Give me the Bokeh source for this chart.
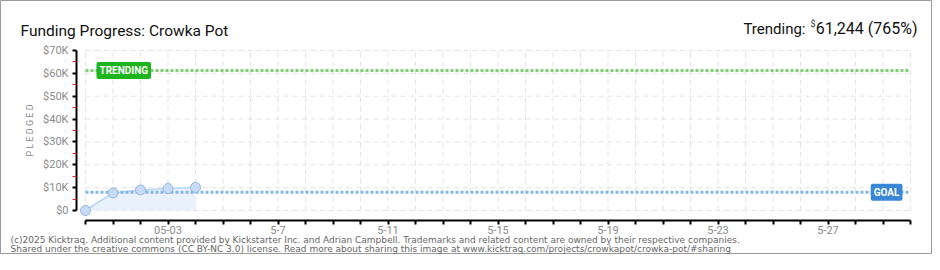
from bokeh.plotting import figure
from bokeh.models import Range1d, FixedTicker, Label
from bokeh.embed import file_html
from bokeh.resources import INLINE

# ---- data ----
days = [0, 1, 2, 3, 4]                      # day index from Apr 30
pledged = [0, 7700, 9000, 9600, 10100]
first_day = 0
last_day = 30
goal = 8000
trending = 61244
trending_pct = 765
x_tick_days = list(range(0, 31))
x_tick_labels = {3: "05-03", 7: "5-7", 11: "5-11", 15: "5-15", 19: "5-19", 23: "5-23", 27: "5-27"}
y_ticks = [0, 10000, 20000, 30000, 40000, 50000, 60000, 70000]
y_minor = [5000, 15000, 25000, 35000, 45000, 55000, 65000]
y_tick_labels = ["$0", "$10K", "$20K", "$30K", "$40K", "$50K", "$60K", "$70K"]
title_text = "Funding Progress: Crowka Pot"
footer1 = ("(c)2025 Kicktraq. Additional content provided by Kickstarter Inc. and Adrian Campbell. "
           "Trademarks and related content are owned by their respective companies.")
footer2 = ("Shared under the creative commons (CC BY-NC 3.0) license. Read more about sharing this image at "
           "www.kicktraq.com/projects/crowkapot/crowka-pot/#sharing")

# ---- layout geometry (pixels) ----
W, H = 932, 254
X0PX, DAYPX = 85, 27.5          # screen x of day 0, px per day
Y0PX, KPX = 210, 160 / 70000    # screen y of $0, px per dollar
AXIS_X_PX, AXIS_Y_PX = 76, 220  # axis line positions

p = figure(width=W, height=H, output_backend="svg", toolbar_location=None,
           x_range=Range1d(-X0PX / DAYPX, (W - X0PX) / DAYPX),
           y_range=Range1d(-(H - Y0PX) / KPX, Y0PX / KPX),
           min_border_left=0, min_border_right=0, min_border_top=0, min_border_bottom=0)
p.title.visible = False
p.outline_line_color = "#9a9a9a"
p.outline_line_width = 1
p.background_fill_color = "white"
p.border_fill_color = "white"
p.xgrid.visible = False
p.ygrid.visible = False

GRAY = "#8a8a8a"
# axes
xa = p.xaxis[0]
xa.fixed_location = -(AXIS_Y_PX - Y0PX) / KPX
xa.ticker = FixedTicker(ticks=x_tick_days)
xa.major_label_overrides = {d: x_tick_labels.get(d, "") for d in x_tick_days}
xa.bounds = (first_day, last_day)
xa.axis_line_width = 2
xa.axis_line_color = "black"
xa.major_tick_line_color = "black"
xa.major_tick_line_width = 2
xa.major_tick_in = 0
xa.major_tick_out = 4
xa.minor_tick_line_color = None
xa.major_label_text_color = GRAY
xa.major_label_text_font = "Roboto"
xa.major_label_text_font_size = "11px"
xa.major_label_standoff = 1

ya = p.yaxis[0]
ya.fixed_location = (AXIS_X_PX - X0PX) / DAYPX
ya.ticker = FixedTicker(ticks=y_ticks, minor_ticks=y_minor)
ya.major_label_overrides = {t: l for t, l in zip(y_ticks, y_tick_labels)}
ya.bounds = (0, 70000)
ya.axis_line_width = 2
ya.axis_line_color = "black"
ya.major_tick_line_color = "black"
ya.major_tick_line_width = 2
ya.major_tick_in = 0
ya.major_tick_out = 4
ya.minor_tick_line_color = "#e02020"
ya.minor_tick_line_width = 1
ya.minor_tick_in = 0
ya.minor_tick_out = 4
ya.major_label_text_color = GRAY
ya.major_label_text_font = "Roboto"
ya.major_label_text_font_size = "11px"
ya.major_label_standoff = 4
ya.axis_label = "P L E D G E D"
ya.axis_label_text_color = GRAY
ya.axis_label_text_font = "Roboto"
ya.axis_label_text_font_size = "9px"
ya.axis_label_text_font_style = "normal"
ya.axis_label_standoff = 5

# grid lines limited to the plotted span (from the tick lists)
GRID = dict(line_color="#e3e3e3", line_width=1, line_dash="5 4")
p.segment(x0=x_tick_days, y0=[y_ticks[0]] * len(x_tick_days),
          x1=x_tick_days, y1=[y_ticks[-1]] * len(x_tick_days), **GRID)
p.segment(x0=[first_day] * len(y_ticks), y0=y_ticks,
          x1=[last_day] * len(y_ticks), y1=y_ticks, **GRID)

# area + line + points
p.varea(x=days, y1=[0]*len(days), y2=pledged, fill_color="#e9f2fc")
p.line(days, pledged, line_color="#b8d4f2", line_width=1.5)

# goal and trending lines
p.line([first_day, last_day], [goal, goal], line_color="#84b6ec", line_width=3, line_dash="3 2")
p.line([first_day, last_day], [trending, trending], line_color="#7fd072", line_width=3, line_dash="3 2")

p.scatter(days, pledged, size=10, fill_color="#c6dcf6", line_color="#93b5de", line_width=1)

# badges
p.add_layout(Label(x=first_day, y=trending, x_offset=11, text="TRENDING",
                   text_align="left", text_baseline="middle", text_color="white",
                   text_font="Roboto", text_font_size="10px", text_font_style="bold",
                   background_fill_color="#1eb41e", border_radius=2, padding=3))
p.add_layout(Label(x=last_day, y=goal, x_offset=-8, text="GOAL",
                   text_align="right", text_baseline="middle", text_color="white",
                   text_font="Roboto", text_font_size="10px", text_font_style="bold",
                   background_fill_color="#3a87d8", border_radius=2, padding=3))

# header texts (screen units, origin bottom-left of canvas)
def sy(ref_y):
    return H - ref_y

p.add_layout(Label(x=20, y=sy(30), x_units="screen", y_units="screen", text=title_text,
                   text_align="left", text_baseline="alphabetic", text_color="#111111",
                   text_font="Roboto", text_font_size="15.5px"))
p.add_layout(Label(x=917, y=sy(28), x_units="screen", y_units="screen",
                   text=f"{trending:,} ({trending_pct}%)",
                   text_align="right", text_baseline="alphabetic", text_color="#111111",
                   text_font="Roboto", text_font_size="16px"))
p.add_layout(Label(x=815, y=sy(23), x_units="screen", y_units="screen", text="$",
                   text_align="right", text_baseline="alphabetic", text_color="#333333",
                   text_font="Roboto", text_font_size="9px"))
p.add_layout(Label(x=805, y=sy(28), x_units="screen", y_units="screen", text="Trending:",
                   text_align="right", text_baseline="alphabetic", text_color="#111111",
                   text_font="Roboto", text_font_size="15px"))

# footer
p.add_layout(Label(x=10, y=sy(239.5), x_units="screen", y_units="screen", text=footer1,
                   text_align="left", text_baseline="middle", text_color="#666666",
                   text_font="DejaVu Sans", text_font_size="9px"))
p.add_layout(Label(x=10, y=sy(248.5), x_units="screen", y_units="screen", text=footer2,
                   text_align="left", text_baseline="middle", text_color="#666666",
                   text_font="DejaVu Sans", text_font_size="9px"))

open("out.html", "w").write(file_html(p, INLINE))
